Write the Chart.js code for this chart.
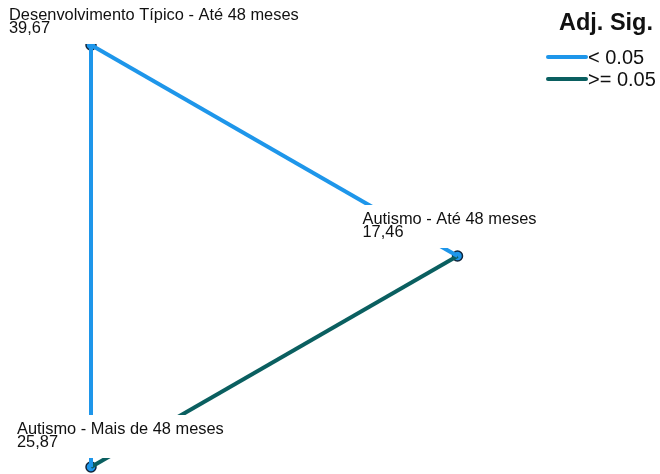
<!DOCTYPE html>
<html>
<head>
<meta charset="utf-8">
<script src="https://cdn.jsdelivr.net/npm/chart.js@4"></script>
<style>
  html, body { margin: 0; padding: 0; background: white; }
  #wrap { position: relative; width: 660px; height: 474px; }
</style>
</head>
<body>
<div id="wrap"><canvas id="c" width="660" height="474"></canvas></div>
<script>
// Pairwise comparisons network: mean ranks per group
const groups = ['Desenvolvimento Típico - Até 48 meses',
                'Autismo - Até 48 meses',
                'Autismo - Mais de 48 meses'];
const meanRanks = ['39,67', '17,46', '25,87'];
// layout position of each node in the network
const nodeX = [0, 1, 0];
const nodeY = [1, 0.5, 0];
// pairs compared, and whether the adjusted significance is < 0.05
const pairFrom = [0, 0, 1];
const pairTo = [1, 2, 2];
const pairSig = [true, true, false];
const legendLabels = ['< 0.05', '>= 0.05'];

const BLUE = '#1e96ea';
const TEAL = '#0a5f60';
const FONT = 'Arial, "Liberation Sans", sans-serif';

// label placement relative to its node: text left and first baseline (px)
const labelPos = [
    { dx: -82, dy: -25 },
    { dx: -95, dy: -32 },
    { dx: -74, dy: -33 }
];
const LINE_H = 13;

const edgeSets = pairFrom.map(function (a, i) {
    const b = pairTo[i];
    return {
        type: 'line',
        data: [{ x: nodeX[a], y: nodeY[a] }, { x: nodeX[b], y: nodeY[b] }],
        borderColor: pairSig[i] ? BLUE : TEAL,
        borderWidth: 4,
        pointRadius: 0,
        fill: false
    };
});

const nodeSet = {
    type: 'scatter',
    data: nodeX.map(function (x, i) { return { x: x, y: nodeY[i] }; }),
    pointRadius: 5,
    pointBackgroundColor: BLUE,
    pointBorderColor: '#10243a',
    pointBorderWidth: 1.5
};

// white label boxes with group name and mean rank, drawn over the lines
const labelPlugin = {
    id: 'nodeLabels',
    afterDatasetsDraw: function (chart) {
        const ctx = chart.ctx;
        const xs = chart.scales.x, ys = chart.scales.y;
        ctx.save();
        ctx.font = '16.4px ' + FONT;
        nodeX.forEach(function (v, i) {
            const px = xs.getPixelForValue(v);
            const py = ys.getPixelForValue(nodeY[i]);
            const tx = px + labelPos[i].dx;
            const b1 = py + labelPos[i].dy;
            const w = ctx.measureText(groups[i]).width;
            ctx.fillStyle = 'white';
            ctx.fillRect(tx - 2, b1 - 19, w + 4, LINE_H + 30);
            ctx.fillStyle = '#111';
            ctx.textBaseline = 'alphabetic';
            ctx.textAlign = 'left';
            ctx.fillText(groups[i], tx, b1);
            ctx.fillText(meanRanks[i], tx, b1 + LINE_H);
        });

        // legend
        ctx.textAlign = 'right';
        ctx.textBaseline = 'alphabetic';
        ctx.font = 'bold 23.5px ' + FONT;
        ctx.fillText('Adj. Sig.', 653, 30);
        ctx.font = '20px ' + FONT;
        ctx.textAlign = 'left';
        ctx.textBaseline = 'middle';
        [BLUE, TEAL].forEach(function (col, k) {
            const y = 57 + k * 22;
            ctx.strokeStyle = col;
            ctx.lineWidth = 4;
            ctx.lineCap = 'round';
            ctx.beginPath();
            ctx.moveTo(548, y);
            ctx.lineTo(586, y);
            ctx.stroke();
            ctx.fillStyle = '#111';
            ctx.fillText(legendLabels[k], 588, y + 1);
        });
        ctx.restore();
    }
};

new Chart(document.getElementById('c'), {
    type: 'scatter',
    data: { datasets: edgeSets.concat([nodeSet]) },
    options: {
        responsive: false,
        animation: false,
        clip: false,
        layout: { padding: 0, autoPadding: false },
        scales: {
            x: { display: false, min: -0.2483, max: 1.5525 },
            y: { display: false, min: -0.0166, max: 1.1066 }
        },
        plugins: { legend: { display: false }, tooltip: { enabled: false } }
    },
    plugins: [labelPlugin]
});
</script>
</body>
</html>
